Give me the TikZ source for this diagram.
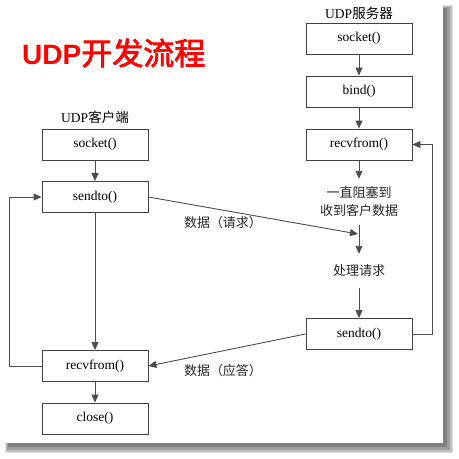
\documentclass[tikz,border=0pt]{standalone}
\usepackage{fontspec}
\setmainfont{Liberation Serif}
\newfontfamily\cjk{Noto Sans CJK SC}
\newfontfamily\cjkbold{Noto Sans CJK SC}[FakeBold=2.5]
\newfontfamily\latbold{Liberation Sans Bold}
\usetikzlibrary{arrows.meta}
\begin{document}
\begin{tikzpicture}[x=1pt,y=-1pt,
  fnbox/.style={draw=black!75,line width=0.9pt,fill=white,minimum width=106pt,minimum height=31pt,inner sep=0pt,font=\fontsize{13.5}{15}\selectfont},
  conn/.style={draw=black!70,line width=0.9pt,-{Triangle[length=8pt,width=7pt]}},
  lbl/.style={inner sep=0pt,font=\fontsize{13}{18}\selectfont\cjk,text=black!85}]
\useasboundingbox (0,0) rectangle (459,459);
% frame with shadow
\fill[black!12] (5,5) rectangle (453,453);
\fill[black!25] (6,6) rectangle (451.5,451.5);
\fill[black!38] (7,7) rectangle (449.5,449.5);
\fill[black!50] (8,8) rectangle (447,447);
\fill[white] (0,0) rectangle (443,443);
% title
\node[anchor=west,inner sep=0pt,text=red] (title) at (22,53)
  {\fontsize{28}{30}\selectfont\latbold UDP\fontsize{31}{31}\selectfont\cjkbold 开发流程};
% headers
\node[inner sep=0pt,font=\fontsize{13.5}{15}\selectfont] (chead) at (95,117) {UDP{\cjk 客户端}};
\node[inner sep=0pt,font=\fontsize{13.5}{15}\selectfont] (shead) at (359,13) {UDP{\cjk 服务器}};
% client
\node[fnbox] (csock) at (95,144.5) {socket()};
\node[fnbox] (csend) at (95,197) {sendto()};
\node[fnbox] (crecv) at (95,366) {recvfrom()};
\node[fnbox] (cclose) at (95,418.5) {close()};
% server
\node[fnbox] (ssock) at (359,38.5) {socket()};
\node[fnbox] (sbind) at (359,91.5) {bind()};
\node[fnbox] (srecv) at (359,144.5) {recvfrom()};
\node[lbl,align=center,minimum height=46pt] (blk) at (359,202) {一直阻塞到\\收到客户数据};
\node[lbl,minimum height=34pt] (proc) at (359,271) {处理请求};
\node[fnbox] (ssend) at (359,334) {sendto()};
\coordinate (hit) at (358,234);
% labels on messages
\node[lbl] (req) at (223,223) {数据（请求）};
\node[lbl] (resp) at (223,371) {数据（应答）};
% client connectors
\draw[conn] (csock) -- (csend);
\draw[conn] (csend) -- (crecv);
\draw[conn] (crecv) -- (cclose);
\draw[conn] (crecv.west) -- ++(-32,0) |- (csend.west);
% server connectors
\draw[conn] (ssock) -- (sbind);
\draw[conn] (sbind) -- (srecv);
\draw[conn] (srecv) -- (blk.north);
\draw[conn] (blk.south) -- (proc.north);
\draw[conn] (proc.south) -- (ssend.north);
\draw[conn] (ssend.east) -- ++(20,0) |- (srecv.east);
% messages
\draw[conn] (csend.east) -- (hit);
\draw[conn] (ssend.west) -- (crecv.east);
\end{tikzpicture}
\end{document}
